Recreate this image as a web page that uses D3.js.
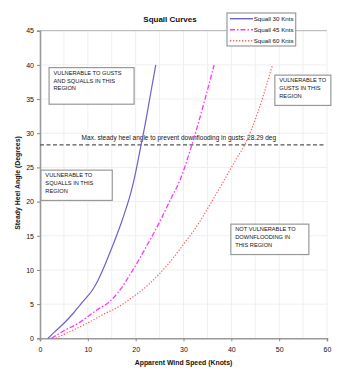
<!DOCTYPE html>
<html><head><meta charset="utf-8">
<script src="https://cdn.jsdelivr.net/npm/d3@7"></script>
<style>body{margin:0;background:#fff}svg{display:block}text{font-family:"Liberation Sans",Arial,sans-serif;fill:#111}</style>
</head><body><svg id="c" width="355" height="384"></svg>
<script>
const xTicks = [0,10,20,30,40,50,60];
const yTicks = [0,5,10,15,20,25,30,35,40,45];
const s30V = [1.7,3,5,7,8.4,10,11,12,13,13.9,15,16,17,18,19,19.85,21.1,21.9,23,24.2];
const s30H = [0,0.9,2.2,3.7,4.9,6.2,7.1,8.3,9.8,11.3,13.2,15.0,16.9,19.0,21.3,23.8,28.2,31,35.3,40];
const s45V = [2.4,5,8,11.8,14.6,16.2,19.5,23,25,27.2,29.3,31.3,32.7,34.5,36.4];
const s45H = [0,1.1,2.2,4.1,5.4,6.6,10.1,14.4,17,20.2,23.2,27.3,30.5,35,40];
const s60V = [3.3,6,10.4,13.2,16.4,18.1,22.6,27.2,30.7,32,36.9,41.1,42.8,45.5,48.6];
const s60H = [0,0.9,2.4,3.5,4.6,5.4,7.8,11.2,14.4,15.6,21.2,26.3,28.3,33,40];
const seriesNames = ["Squall 30 Knts","Squall 45 Knts","Squall 60 Knts"];
const limitAngle = 28.29;
const limitLabel = "Max. steady heel angle to prevent downflooding in gusts: 28.29 deg";
const boxTexts = [
  ["VULNERABLE TO GUSTS","AND SQUALLS IN THIS","REGION"],
  ["VULNERABLE TO","GUSTS IN THIS","REGION"],
  ["VULNERABLE TO","SQUALLS IN THIS","REGION"],
  ["NOT VULNERABLE TO","DOWNFLOODING IN","THIS REGION"]
];
const boxAnchorV = [1.9, 49.1, 0.2, 39.9];
const boxAnchorH = [39.6, 38.5, 24.6, 16.7];

const svg = d3.select("#c");
const x = d3.scaleLinear().domain([0,60]).range([40,327]);
const y = d3.scaleLinear().domain([0,45]).range([338.3,30.7]);

// grid
const g = svg.append("g");
g.selectAll(".vg").data(d3.range(5,61,5)).join("line")
  .attr("x1",d=>x(d)).attr("x2",d=>x(d)).attr("y1",y(0)).attr("y2",y(45))
  .attr("stroke","#efefef").attr("stroke-width",1);
g.selectAll(".hg").data(d3.range(5,45,5)).join("line")
  .attr("x1",x(0)).attr("x2",x(60)).attr("y1",d=>y(d)).attr("y2",d=>y(d))
  .attr("stroke","#efefef").attr("stroke-width",1);
g.append("line").attr("x1",x(0)).attr("x2",x(60)).attr("y1",y(45)).attr("y2",y(45))
  .attr("stroke","#b0b0b0").attr("stroke-width",1);

// axes
const xAxis = svg.append("g").attr("transform",`translate(0,${y(0)})`)
  .call(d3.axisBottom(x).tickValues(xTicks).tickSize(3).tickPadding(4));
const yAxis = svg.append("g").attr("transform",`translate(${x(0)},0)`)
  .call(d3.axisLeft(y).tickValues(yTicks).tickSize(3).tickPadding(3));
[xAxis,yAxis].forEach(a=>{
  a.attr("color","#222").attr("font-family","Liberation Sans, Arial").attr("font-size",7);
  a.select(".domain").attr("stroke","#999").attr("stroke-width",1.6);
  a.selectAll(".tick line").attr("stroke","#888");
  a.selectAll(".tick text").attr("fill","#111");
});
xAxis.selectAll(".tick text").attr("dy","0.9em");

// limit line
svg.append("line").attr("x1",x(0)).attr("x2",x(59.6)).attr("y1",y(limitAngle)).attr("y2",y(limitAngle))
  .attr("stroke","#555").attr("stroke-width",1.1).attr("stroke-dasharray","4,2.5");
svg.append("text").attr("x",x(8.7)).attr("y",y(limitAngle)-4.5).attr("font-size",6.5).text(limitLabel);

// curves
const series = [
  {v:s30V,h:s30H,color:"#6b63c9",dash:null,w:1.2},
  {v:s45V,h:s45H,color:"#ff33ff",dash:"5,2,1.5,2",w:1.3},
  {v:s60V,h:s60H,color:"#ff6060",dash:"1.3,1.7",w:1.2}
];
const line = d3.line().x(d=>x(d[0])).y(d=>y(d[1])).curve(d3.curveMonotoneX);
series.forEach(s=>{
  svg.append("path").attr("d",line(s.v.map((v,i)=>[v,s.h[i]])))
    .attr("fill","none").attr("stroke",s.color).attr("stroke-width",s.w)
    .attr("stroke-dasharray",s.dash);
});

// boxes
const boxW = [85,56,71.3,78], boxH = [36.6,30.3,30.3,30.4];
boxTexts.forEach((lines,i)=>{
  const bx = x(boxAnchorV[i]), by = y(boxAnchorH[i]);
  svg.append("rect").attr("x",bx).attr("y",by)
    .attr("width",boxW[i]).attr("height",boxH[i]).attr("fill","#fff")
    .attr("stroke","#999").attr("stroke-width",1.2);
  const t = svg.append("text").attr("font-size",5.7);
  lines.forEach((l,j)=>t.append("tspan").attr("x",bx+4.4).attr("y",by+7.2+j*7.7).text(l));
});

// titles
svg.append("text").attr("x",170).attr("y",22).attr("text-anchor","middle")
  .attr("font-size",8).attr("font-weight","bold").text("Squall Curves");
svg.append("text").attr("x",183.5).attr("y",365).attr("text-anchor","middle")
  .attr("font-size",6.9).attr("font-weight","bold").text("Apparent Wind Speed (Knots)");
svg.append("text").attr("transform","translate(20,183) rotate(-90)").attr("text-anchor","middle")
  .attr("font-size",6.9).attr("font-weight","bold").text("Steady Heel Angle (Degrees)");

// legend
const lg = svg.append("g");
lg.append("rect").attr("x",227).attr("y",13).attr("width",68.7).attr("height",33)
  .attr("fill","#fff").attr("stroke","#999").attr("stroke-width",1.2);
series.forEach((s,i)=>{
  const yy = 18.7+i*11;
  lg.append("line").attr("x1",230).attr("x2",253).attr("y1",yy).attr("y2",yy)
    .attr("stroke",s.color).attr("stroke-width",s.w+0.2).attr("stroke-dasharray",s.dash);
  lg.append("text").attr("x",253.7).attr("y",yy+2.2).attr("font-size",6.2).text(seriesNames[i]);
});
</script></body></html>
